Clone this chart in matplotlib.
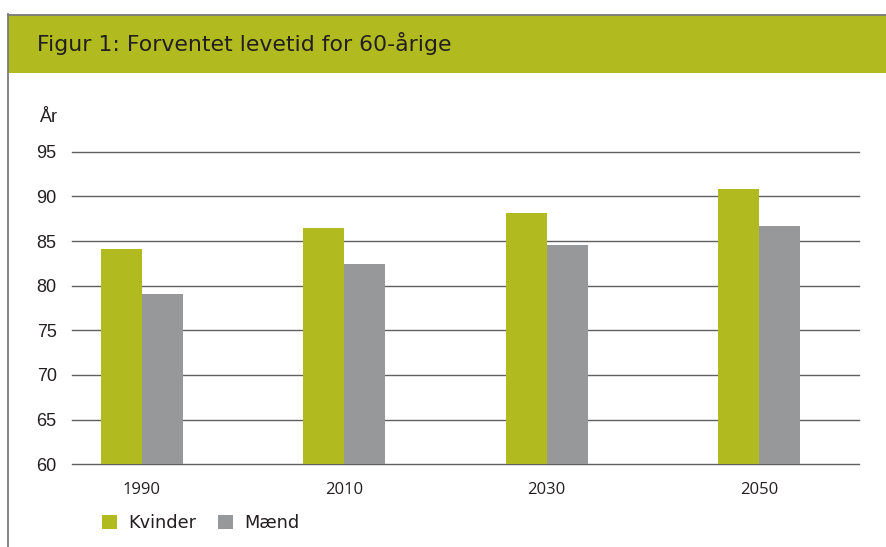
import matplotlib.pyplot as plt
from matplotlib.patches import Rectangle
from matplotlib.lines import Line2D

# Data
years = ['1990', '2010', '2030', '2050']
kvinder = [84.1, 86.45, 88.1, 90.8]
maend = [79.1, 82.4, 84.55, 86.7]
y_ticks = [60, 65, 70, 75, 80, 85, 90, 95]

green = '#b1ba1f'
grey = '#97989a'
text_col = '#231f20'

W, H = 887, 547
fig = plt.figure(figsize=(W / 100, H / 100), dpi=100)

def fx(px):
    return px / W

def fy(py):
    return 1 - py / H

# Frame: header band and thin border lines
fig.patches.append(Rectangle((fx(8), fy(72.7)), 1 - fx(8), fy(15) - fy(72.7),
                             transform=fig.transFigure, facecolor=green,
                             edgecolor='none', zorder=0))
fig.lines.append(Line2D([fx(8), 1], [fy(14.5), fy(14.5)], transform=fig.transFigure,
                        color='#7a7a7a', lw=1.3))
fig.lines.append(Line2D([fx(8.5), fx(8.5)], [fy(14), 0], transform=fig.transFigure,
                        color='#7a7a7a', lw=1.3))
fig.text(fx(37), fy(43.5), 'Figur 1: Forventet levetid for 60-årige',
         fontsize=15.8, family='DejaVu Sans', color=text_col, va='center', ha='left')

# Axes
ax = fig.add_axes([fx(72), fy(464.3), fx(859) - fx(72), fy(151.7) - fy(464.3)])
x = [0, 0.982, 1.967, 3]
w = 0.1993
b1 = ax.bar([i - w / 2 for i in x], [v - 60 for v in kvinder], width=w, bottom=60,
            color=green, zorder=3, label='Kvinder')
b2 = ax.bar([i + w / 2 for i in x], [v - 60 for v in maend], width=w, bottom=60,
            color=grey, zorder=3, label='Mænd')

ax.set_xlim(-0.3404, 3.486)
ax.set_ylim(60, 95)
ax.set_yticks(y_ticks)
ax.set_yticklabels([str(t) for t in y_ticks], family='Liberation Sans', fontsize=13,
                   color=text_col)
ax.set_xticks(x)
ax.set_xticklabels(years, family='Open Sans', fontsize=12, color=text_col)
ax.tick_params(axis='both', length=0)
ax.tick_params(axis='y', pad=11)
ax.tick_params(axis='x', pad=13)
for t in y_ticks:
    ax.axhline(t, color='#606060', lw=1.0, zorder=1, clip_on=False)
for s in ax.spines.values():
    s.set_visible(False)

fig.text(fx(40), fy(117), 'År', fontsize=13, family='Liberation Sans',
         color=text_col, va='center', ha='left')

leg = fig.legend(handles=[b1, b2], loc='center left', bbox_to_anchor=(fx(102), fy(523)),
                 ncol=2, frameon=False, handlelength=0.85, handleheight=0.85,
                 handletextpad=0.65, columnspacing=1.2, borderpad=0, borderaxespad=0,
                 prop={'family': 'DejaVu Sans', 'size': 12.8})
for t in leg.get_texts():
    t.set_color(text_col)

fig.savefig('out.png', dpi=100)
